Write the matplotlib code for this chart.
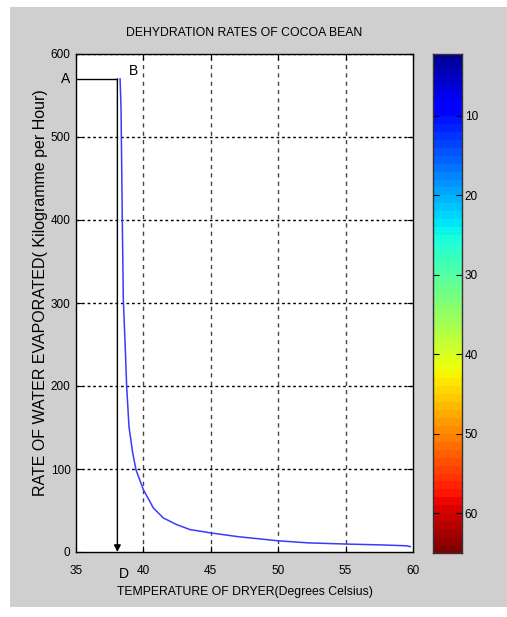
import numpy as np
import matplotlib
matplotlib.use("Agg")
import matplotlib.pyplot as plt
from matplotlib.patches import Rectangle

# Curve
temperature = [38.27, 38.34, 38.39, 38.44, 38.51, 38.64, 38.76, 38.93, 39.2, 39.45,
               40.0, 40.74, 41.48, 42.47, 43.46, 45, 47, 50, 52.2, 55, 57.5, 59.5, 59.8]
rate = [570, 535, 464, 392, 304, 252, 199, 151, 120, 99,
        75, 53, 41, 33, 27, 23, 18.5, 13.5, 11, 9.6, 8.6, 7.5, 6.5]

# Marker path A -> B -> D
path_x = [35, 38.07, 38.07]
path_y = [570, 570, 0]

x_ticks = [35, 40, 45, 50, 55, 60]
y_ticks = [0, 100, 200, 300, 400, 500, 600]
cbar_ticks = [10, 20, 30, 40, 50, 60]

font = ["Liberation Sans", "DejaVu Sans"]

fig = plt.figure(figsize=(5.07, 6.17), dpi=100)
fig.patch.set_facecolor("white")
fig.patches.append(Rectangle((10 / 507, 10 / 617), 497 / 507, 600 / 617,
                             transform=fig.transFigure, facecolor="#cfcfcf",
                             edgecolor="none", zorder=-10))

ax = fig.add_axes([76 / 507, 1 - 552 / 617, 337 / 507, 498 / 617])
ax.set_facecolor("white")
ax.set_xlim(35, 60)
ax.set_ylim(0, 600)
ax.set_xticks(x_ticks)
ax.set_yticks(y_ticks)
ax.set_xticklabels([str(v) for v in x_ticks], family=font, fontsize=8.5)
ax.set_yticklabels([str(v) for v in y_ticks], family=font, fontsize=8.5)
ax.tick_params(direction="in", length=4, top=True, right=True)
ax.tick_params(axis="x", pad=9)
ax.tick_params(axis="y", pad=4)

for v in x_ticks[1:-1]:
    ax.axvline(v, color="#444444", lw=1, dashes=(3, 3), zorder=1)
for v in y_ticks[1:]:
    ax.axhline(v, color="black", lw=1, dashes=(2, 2), zorder=1)

ax.plot(temperature, rate, color="#3a3aff", lw=1.1, zorder=3)
ax.plot(path_x[:2], path_y[:2], color="black", lw=1, zorder=4)
ax.annotate("", xy=(path_x[2], path_y[2]), xytext=(path_x[1], path_y[1]),
            arrowprops=dict(arrowstyle="-|>", color="black", lw=1,
                            mutation_scale=10, shrinkA=0, shrinkB=0), zorder=4)

ax.text(34.2, 570, "A", family=font, fontsize=10, ha="center", va="center", clip_on=False)
ax.text(39.25, 580, "B", family=font, fontsize=10, ha="center", va="center")
ax.text(38.56, -27, "D", family=font, fontsize=10, ha="center", va="center", clip_on=False)

for s in ax.spines.values():
    s.set_color("black")
    s.set_linewidth(1)

ax.set_title("DEHYDRATION RATES OF COCOA BEAN", family=font, fontsize=8.8, pad=13)
ax.set_xlabel("TEMPERATURE OF DRYER(Degrees Celsius)", family=font, fontsize=8.8, labelpad=7)
fig.text(41 / 507, 1 - 293 / 617, "RATE OF WATER EVAPORATED( Kilogramme per Hour)",
         family=font, fontsize=11.5, rotation=90, ha="center", va="center")

# colorbar
cax = fig.add_axes([433 / 507, 1 - 553 / 617, 29 / 507, 499 / 617])
edges = np.arange(1, 66)
cax.pcolormesh([0, 1], edges, (edges[:-1] + 0.5).reshape(-1, 1),
               cmap=plt.get_cmap("jet", 64), vmin=1, vmax=65, shading="flat")
cax.set_ylim(65.0, 2.2)
cax.set_xlim(0, 1)
cax.set_xticks([])
cax.yaxis.tick_right()
cax.set_yticks(cbar_ticks)
cax.set_yticklabels([str(v) for v in cbar_ticks], family=font, fontsize=8.5)
cax.tick_params(axis="y", direction="in", length=4, left=True, right=True, pad=2)
for s in cax.spines.values():
    s.set_color("#333333")
    s.set_linewidth(1)

fig.savefig("out.png", dpi=100)
